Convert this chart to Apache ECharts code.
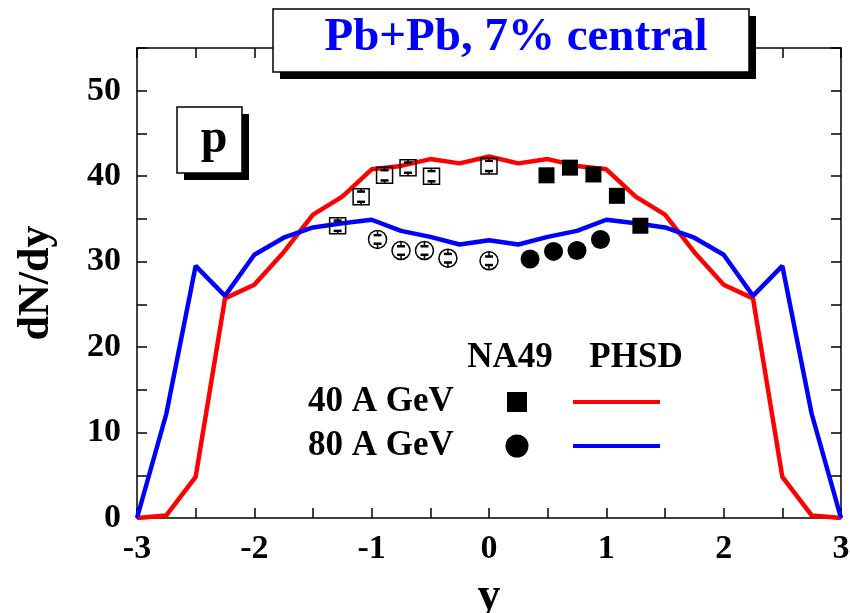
<!DOCTYPE html>
<html>
<head>
<meta charset="utf-8">
<script src="https://cdn.jsdelivr.net/npm/echarts@6/dist/echarts.min.js"></script>
<style>
  html, body { margin: 0; padding: 0; background: #fff; }
  #chart { width: 850px; height: 613px; }
</style>
</head>
<body>
<div id="chart"></div>
<script>
  // PHSD rapidity grid and curves
  const rapidity = [-3, -2.75, -2.5, -2.25, -2, -1.75, -1.5, -1.25, -1, -0.75, -0.5, -0.25, 0,
    0.25, 0.5, 0.75, 1, 1.25, 1.5, 1.75, 2, 2.25, 2.5, 2.75, 3]
  const phsd40 = [0, 0.3, 4.8, 25.7, 27.3, 31.1, 35.5, 37.6, 40.8, 41.2, 42.0, 41.5, 42.3,
    41.5, 42.0, 41.2, 40.8, 37.6, 35.5, 31.1, 27.3, 25.7, 4.8, 0.3, 0]
  const phsd80 = [0, 12.2, 29.5, 26.0, 30.8, 32.8, 34.0, 34.5, 34.9, 33.6, 32.9, 32.0, 32.5,
    32.0, 32.9, 33.6, 34.9, 34.5, 34.0, 32.8, 30.8, 26.0, 29.5, 12.2, 0]

  // NA49 data: measured (filled) and reflected (open)
  const na40Y = [0.49, 0.69, 0.89, 1.09, 1.29]
  const na40 = [40.1, 41.0, 40.2, 37.7, 34.2]
  const na40ReflY = [-1.29, -1.09, -0.89, -0.69, -0.49, 0.0]
  const na40Refl = [34.2, 37.6, 40.1, 41.0, 40.0, 41.2]
  const na40ReflErr = [0.6, 0.6, 0.6, 0.6, 0.6, 0.6]
  const na80Y = [0.35, 0.55, 0.75, 0.95]
  const na80 = [30.3, 31.2, 31.3, 32.6]
  const na80ReflY = [-0.95, -0.75, -0.55, -0.35, 0.0]
  const na80Refl = [32.6, 31.3, 31.3, 30.4, 30.1]
  const na80ReflErr = [0.5, 0.5, 0.5, 0.5, 0.5]

  const serif = 'Liberation Serif'
  const zip = (xs, ys) => xs.map((x, i) => [x, ys[i]])
  const zip3 = (xs, ys, es) => xs.map((x, i) => [x, ys[i], es[i]])

  const frameLine = { show: true, onZero: false, lineStyle: { color: '#000', width: 1.5 } }
  const tickStyle = { show: true, inside: true, length: 10, lineStyle: { color: '#000', width: 1.5 } }
  const labelStyle = { fontFamily: serif, fontWeight: 'bold', fontSize: 34, color: '#000' }

  function errorBars(half) {
    return function (params, api) {
      const x = api.value(0), y = api.value(1), e = api.value(2)
      const c = api.coord([x, y])
      const top = api.coord([x, y + e])
      const bot = api.coord([x, y - e])
      const w = 4
      const st = { stroke: '#000', lineWidth: 1.5 }
      const cap = { stroke: '#000', lineWidth: 2.5 }
      return {
        type: 'group',
        children: [
          { type: 'line', shape: { x1: c[0], y1: top[1], x2: c[0], y2: c[1] - half }, style: st },
          { type: 'line', shape: { x1: c[0], y1: bot[1], x2: c[0], y2: c[1] + half }, style: st },
          { type: 'line', shape: { x1: c[0] - w, y1: top[1], x2: c[0] + w, y2: top[1] }, style: cap },
          { type: 'line', shape: { x1: c[0] - w, y1: bot[1], x2: c[0] + w, y2: bot[1] }, style: cap },
        ],
      }
    }
  }

  const chart = echarts.init(document.getElementById('chart'))

  const option = {
    animation: false,
    backgroundColor: '#fff',
    grid: { left: 137, right: 9, top: 48, bottom: 95, outerBoundsMode: 'none' },
    xAxis: [
      {
        type: 'value', min: -3, max: 3, interval: 0.5,
        axisLine: frameLine, axisTick: tickStyle, splitLine: { show: false },
        axisLabel: {
          ...labelStyle, margin: 14,
          formatter: (v) => (Number.isInteger(v) ? String(v) : ''),
        },
        name: 'y', nameLocation: 'middle', nameGap: 56,
        nameTextStyle: { fontFamily: serif, fontWeight: 'bold', fontSize: 46, color: '#000' },
      },
      {
        type: 'value', min: -3, max: 3, interval: 0.5, position: 'top',
        axisLine: frameLine, axisTick: tickStyle, splitLine: { show: false },
        axisLabel: { show: false },
      },
    ],
    yAxis: [
      {
        type: 'value', min: 0, max: 55, interval: 5,
        axisLine: frameLine, axisTick: tickStyle, splitLine: { show: false },
        axisLabel: {
          ...labelStyle, margin: 16,
          formatter: (v) => (v % 10 === 0 ? String(v) : ''),
        },
        name: 'dN/dy', nameLocation: 'middle', nameGap: 78, nameRotate: 90,
        nameTextStyle: { fontFamily: serif, fontWeight: 'bold', fontSize: 44, color: '#000' },
      },
      {
        type: 'value', min: 0, max: 55, interval: 5, position: 'right',
        axisLine: frameLine, axisTick: tickStyle, splitLine: { show: false },
        axisLabel: { show: false },
      },
    ],
    series: [
      {
        type: 'line', data: zip(rapidity, phsd40), symbol: 'none', z: 2,
        lineStyle: { color: '#ff0000', width: 4.5 },
      },
      {
        type: 'line', data: zip(rapidity, phsd80), symbol: 'none', z: 2,
        lineStyle: { color: '#0000ff', width: 4.5 },
      },
      {
        type: 'scatter', data: zip(na40Y, na40), symbol: 'rect', symbolSize: 16, z: 3,
        itemStyle: { color: '#000', opacity: 1 },
      },
      {
        type: 'scatter', data: zip(na40ReflY, na40Refl), symbol: 'rect', symbolSize: 16, z: 3,
        itemStyle: { color: 'rgba(0,0,0,0)', borderColor: '#000', borderWidth: 1.5, opacity: 1 },
      },
      {
        type: 'scatter', data: zip(na80Y, na80), symbol: 'circle', symbolSize: 19, z: 3,
        itemStyle: { color: '#000', opacity: 1 },
      },
      {
        type: 'scatter', data: zip(na80ReflY, na80Refl), symbol: 'circle', symbolSize: 18, z: 3,
        itemStyle: { color: 'rgba(0,0,0,0)', borderColor: '#000', borderWidth: 1.5, opacity: 1 },
      },
      {
        type: 'custom', data: zip3(na40ReflY, na40Refl, na40ReflErr), z: 4,
        renderItem: errorBars(8),
      },
      {
        type: 'custom', data: zip3(na80ReflY, na80Refl, na80ReflErr), z: 4,
        renderItem: errorBars(9),
      },
    ],
    graphic: [
      // title box with shadow
      { type: 'rect', z: 100, shape: { x: 280, y: 16, width: 476, height: 63 }, style: { fill: '#000' } },
      {
        type: 'rect', z: 101, shape: { x: 273, y: 9, width: 476, height: 63 },
        style: { fill: '#fff', stroke: '#000', lineWidth: 1.5 },
      },
      {
        type: 'text', z: 102, x: 516, y: 38,
        style: {
          text: 'Pb+Pb, 7% central', fill: '#0000ff', fontFamily: serif, fontWeight: 'bold',
          fontSize: 47, align: 'center', verticalAlign: 'middle',
        },
      },
      // particle box
      { type: 'rect', z: 100, shape: { x: 184, y: 114, width: 65, height: 66 }, style: { fill: '#000' } },
      {
        type: 'rect', z: 101, shape: { x: 177, y: 107, width: 65, height: 66 },
        style: { fill: '#fff', stroke: '#000', lineWidth: 1.5 },
      },
      {
        type: 'text', z: 102, x: 214, y: 140,
        style: {
          text: 'p', fill: '#000', fontFamily: serif, fontWeight: 'bold',
          fontSize: 48, align: 'center', verticalAlign: 'middle',
        },
      },
      // legend table
      {
        type: 'text', z: 102, x: 510, y: 358,
        style: { text: 'NA49', fill: '#000', fontFamily: serif, fontWeight: 'bold', fontSize: 35, align: 'center', verticalAlign: 'middle' },
      },
      {
        type: 'text', z: 102, x: 636, y: 358,
        style: { text: 'PHSD', fill: '#000', fontFamily: serif, fontWeight: 'bold', fontSize: 35, align: 'center', verticalAlign: 'middle' },
      },
      {
        type: 'text', z: 102, x: 308, y: 402,
        style: { text: '40 A GeV', fill: '#000', fontFamily: serif, fontWeight: 'bold', fontSize: 35, align: 'left', verticalAlign: 'middle' },
      },
      {
        type: 'text', z: 102, x: 308, y: 446,
        style: { text: '80 A GeV', fill: '#000', fontFamily: serif, fontWeight: 'bold', fontSize: 35, align: 'left', verticalAlign: 'middle' },
      },
      { type: 'rect', z: 102, shape: { x: 507, y: 392, width: 20, height: 20 }, style: { fill: '#000' } },
      { type: 'circle', z: 102, shape: { cx: 517, cy: 446, r: 11.5 }, style: { fill: '#000' } },
      {
        type: 'line', z: 102, shape: { x1: 573, y1: 402, x2: 660, y2: 402 },
        style: { stroke: '#ff0000', lineWidth: 4 },
      },
      {
        type: 'line', z: 102, shape: { x1: 573, y1: 446, x2: 660, y2: 446 },
        style: { stroke: '#0000ff', lineWidth: 4 },
      },
    ],
  }

  chart.setOption(option)
</script>
</body>
</html>
